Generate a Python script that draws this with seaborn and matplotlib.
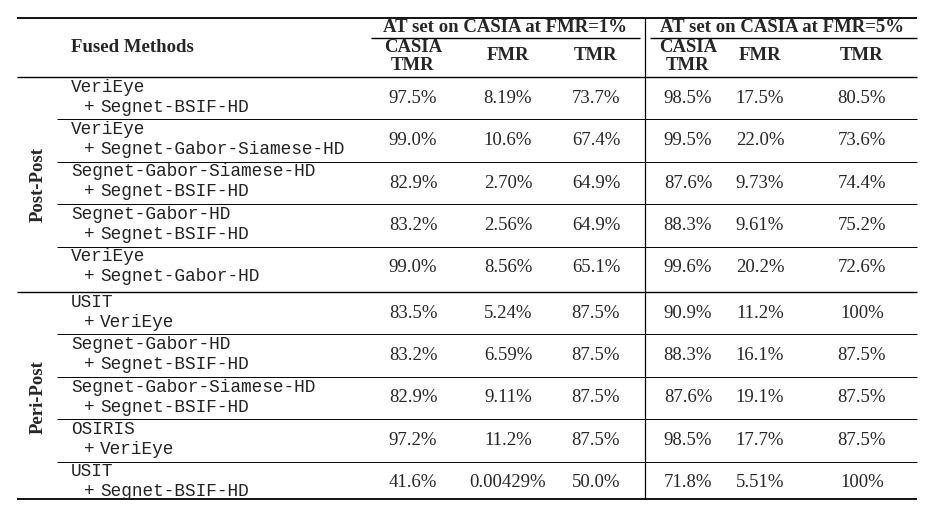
import matplotlib
matplotlib.use("Agg")
import matplotlib.pyplot as plt
import seaborn as sns

sns.set_theme(style="white")

groups = ["Post-Post", "Peri-Post"]
methods_a = ["VeriEye", "VeriEye", "Segnet-Gabor-Siamese-HD", "Segnet-Gabor-HD", "VeriEye",
             "USIT", "Segnet-Gabor-HD", "Segnet-Gabor-Siamese-HD", "OSIRIS", "USIT"]
methods_b = ["Segnet-BSIF-HD", "Segnet-Gabor-Siamese-HD", "Segnet-BSIF-HD", "Segnet-BSIF-HD", "Segnet-Gabor-HD",
             "VeriEye", "Segnet-BSIF-HD", "Segnet-BSIF-HD", "VeriEye", "Segnet-BSIF-HD"]
casia_tmr_1 = ["97.5%", "99.0%", "82.9%", "83.2%", "99.0%", "83.5%", "83.2%", "82.9%", "97.2%", "41.6%"]
fmr_1 = ["8.19%", "10.6%", "2.70%", "2.56%", "8.56%", "5.24%", "6.59%", "9.11%", "11.2%", "0.00429%"]
tmr_1 = ["73.7%", "67.4%", "64.9%", "64.9%", "65.1%", "87.5%", "87.5%", "87.5%", "87.5%", "50.0%"]
casia_tmr_5 = ["98.5%", "99.5%", "87.6%", "88.3%", "99.6%", "90.9%", "88.3%", "87.6%", "98.5%", "71.8%"]
fmr_5 = ["17.5%", "22.0%", "9.73%", "9.61%", "20.2%", "11.2%", "16.1%", "19.1%", "17.7%", "5.51%"]
tmr_5 = ["80.5%", "73.6%", "74.4%", "75.2%", "72.6%", "100%", "87.5%", "87.5%", "87.5%", "100%"]

W, H = 935, 516
fig = plt.figure(figsize=(W / 100, H / 100), dpi=100)
ax = fig.add_axes([0, 0, 1, 1])
ax.set_xlim(0, W)
ax.set_ylim(H, 0)
ax.axis("off")

serif = "Liberation Serif"
mono = "Liberation Mono"
fs = 13.5
mfs = 12.8
mcol = "#222222"

def hline(y, x0, x1, lw=1.0):
    ax.plot([x0, x1], [y, y], color="black", lw=lw, solid_capstyle="butt")

hline(18, 17, 917, 1.3)
hline(38, 371, 640, 1.0)
hline(38, 650, 917, 1.0)
hline(77, 17, 917, 1.0)
hline(292, 17, 917, 1.0)
hline(499, 17, 917, 1.3)
ax.plot([645, 645], [18, 499], color="black", lw=0.9)

ax.text(132, 47, "Fused Methods", fontfamily=serif, fontweight="bold", fontsize=fs, ha="center", va="center")
ax.text(505, 27, "AT set on CASIA at FMR=1%", fontfamily=serif, fontweight="bold", fontsize=fs, ha="center", va="center")
ax.text(782, 27, "AT set on CASIA at FMR=5%", fontfamily=serif, fontweight="bold", fontsize=fs, ha="center", va="center")

cols_x = [413, 508, 596, 688, 760, 862]
for i, x in enumerate(cols_x):
    if i % 3 == 0:
        ax.text(x, 47, "CASIA", fontfamily=serif, fontweight="bold", fontsize=fs, ha="center", va="center")
        ax.text(x, 65, "TMR", fontfamily=serif, fontweight="bold", fontsize=fs, ha="center", va="center")
    else:
        ax.text(x, 56, "FMR" if i % 3 == 1 else "TMR", fontfamily=serif, fontweight="bold", fontsize=fs,
                ha="center", va="center")

row_h = 42.4
cols = [casia_tmr_1, fmr_1, tmr_1, casia_tmr_5, fmr_5, tmr_5]
for r in range(len(methods_a)):
    g = r // 5
    top = (77 if g == 0 else 292) + (r % 5) * row_h
    cy = top + row_h / 2
    ax.text(71, cy - 11, methods_a[r], fontfamily=mono, fontsize=mfs, color=mcol, ha="left", va="center")
    ax.text(84, cy + 9, "+", fontfamily=mono, fontsize=mfs, color=mcol, ha="left", va="center")
    ax.text(100, cy + 9, methods_b[r], fontfamily=mono, fontsize=mfs, color=mcol, ha="left", va="center")
    for x, col in zip(cols_x, cols):
        ax.text(x, cy, col[r], fontfamily=serif, fontsize=fs, ha="center", va="center")
    if r % 5 != 4:
        hline(top + row_h, 57, 917, 0.7)

for g, name in enumerate(groups):
    cy = 185 if g == 0 else 397
    ax.text(38, cy, name, fontfamily=serif, fontweight="bold", fontsize=fs, ha="center", va="center", rotation=90)

fig.savefig("out.png", dpi=100, facecolor="white")
